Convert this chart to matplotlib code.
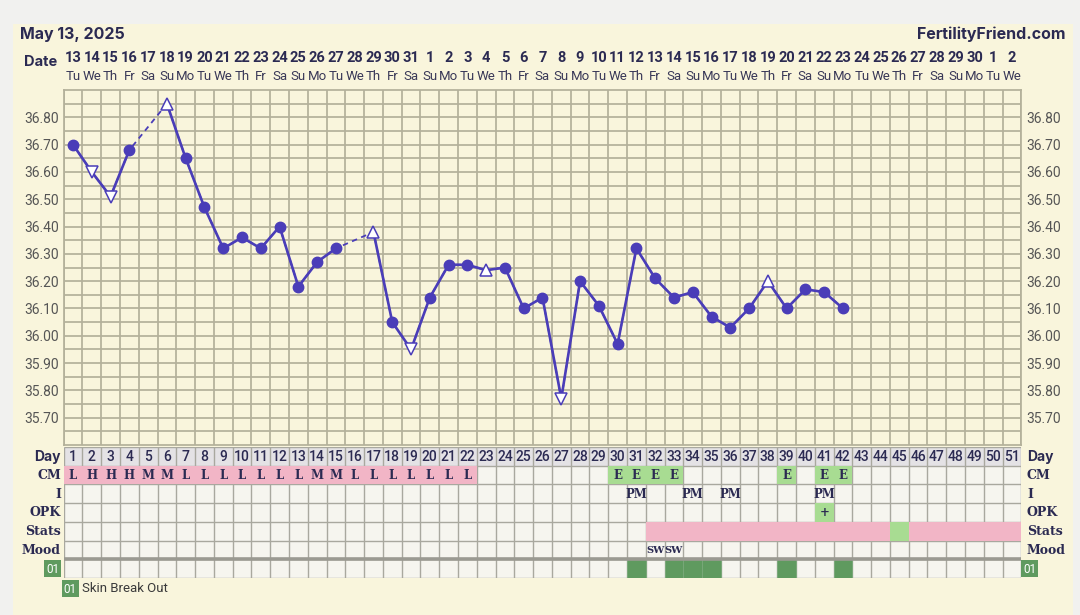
import numpy as np
import pandas as pd
import matplotlib
matplotlib.use('Agg')
import matplotlib.pyplot as plt
from matplotlib.patches import Rectangle

# ---- data ----
chart_date = 'May 13, 2025'
site_name = 'FertilityFriend.com'
first_day = '2025-05-13'
n_days = 51

# temperatures for cycle days 1..42 (nan = no reading)
temps = [36.70, 36.60, 36.51, 36.68, np.nan, 36.85, 36.65, 36.47, 36.32, 36.36,
         36.32, 36.40, 36.18, 36.27, 36.32, np.nan, 36.38, 36.05, 35.95, 36.14,
         36.26, 36.26, 36.24, 36.25, 36.10, 36.14, 35.77, 36.20, 36.11, 35.97,
         36.32, 36.21, 36.14, 36.16, 36.07, 36.03, 36.10, 36.20, 36.10, 36.17,
         36.16, 36.10]
tri_down_days = [2, 3, 19, 27]
tri_up_days = [6, 17, 23, 38]

cm_letters = list('LHHHMMLLLLLLLMMLLLLLLL')   # days 1..22
egg_days = [30, 31, 32, 33, 39, 41, 42]
pm_days = [31, 34, 36, 41]
opk_days = [41]
stats_from, stats_to = 32, 51
stats_green = [45]
mood_days = [32, 33]
mood_text = ['SW', 'SW']
skin_days = [31, 33, 34, 35, 39, 42]
skin_label = 'Skin Break Out'

row_names = ['Day', 'CM', 'I', 'OPK', 'Stats', 'Mood']

# ---- colours ----
bg_out = '#f1f1ef'
card = '#f9f5dc'
grid_c = '#b3b09a'
purple = '#4a3db8'
navy = '#2b2a52'
pink = '#f2b5c6'
lgreen = '#a8dc92'
dgreen = '#5f9a5f'
cell = '#f6f5ef'
dayrow = '#e4e2e5'
border = '#a9a89f'

W, H = 1080, 615
fig = plt.figure(figsize=(W / 100, H / 100), dpi=100, facecolor=bg_out)

def fx(px):
    return px / W

def fy(py):
    return 1 - py / H

fig.patches.append(Rectangle((fx(13), 0), fx(1073) - fx(13), fy(24), transform=fig.transFigure,
                             facecolor=card, edgecolor='none', zorder=-5))

L, R = 63.6, 1021.4
ax = fig.add_axes([fx(L), fy(445), fx(R) - fx(L), (445 - 90) / H])
ax.set_facecolor(card)

days = np.arange(1, len(temps) + 1)
t = np.array(temps)
ok = ~np.isnan(t)

# dashed line bridges the missing days, solid line on top
ax.plot(days[ok], t[ok], color=purple, lw=1.3, dashes=(3, 2.5), zorder=3)
ax.plot(days, t, '-', color=purple, lw=1.9, zorder=4)

circ = ok.copy()
for d in tri_down_days + tri_up_days:
    circ[d - 1] = False
ax.plot(days[circ], t[circ], 'o', color=purple, ms=7.5, zorder=5)
dn = np.array(tri_down_days)
up = np.array(tri_up_days)
ax.plot(dn, t[dn - 1], 'v', mfc='white', mec=purple, mew=1.1, ms=8, zorder=5)
ax.plot(up, t[up - 1], '^', mfc='white', mec=purple, mew=1.1, ms=8, zorder=5)

ax.set_xlim(0.5, n_days + 0.5)
ax.set_ylim(35.60, 36.90)
ax.set_xticks(np.arange(0.5, n_days + 1, 1))
ax.set_xticklabels([])
ax.set_yticks(np.round(np.arange(35.70, 36.81, 0.1), 2))
ax.set_yticks(np.round(np.arange(35.65, 36.90, 0.1), 2), minor=True)
ax.yaxis.set_major_formatter(matplotlib.ticker.FormatStrFormatter('%.2f'))
ax.grid(True, which='both', color=grid_c, lw=1.25, zorder=1)
ax.tick_params(which='both', length=0, labelright=True, labelsize=10, colors='#555555')
ax.tick_params(axis='y', pad=3.5)
for lab in ax.get_yticklabels():
    lab.set_fontfamily('Roboto')
for s in ax.spines.values():
    s.set_color(grid_c)
    s.set_linewidth(1.25)

# date header
dates = pd.date_range(first_day, periods=n_days, freq='D')
xt = ax.get_xaxis_transform()
for i, d in enumerate(dates):
    ax.text(i + 1, 1.090, str(d.day), transform=xt, ha='center', va='center',
            fontsize=10.5, fontweight='bold', color=navy, family='Roboto')
    ax.text(i + 1, 1.039, d.strftime('%a')[:2], transform=xt, ha='center', va='center',
            fontsize=9.5, color='#3a3958', family='Roboto')

fig.text(fx(20), fy(34), chart_date, ha='left', va='center', fontsize=11.5,
         fontweight='bold', color=navy, family='Inter')
fig.text(fx(1066), fy(34), site_name, ha='right', va='center', fontsize=11.5,
         fontweight='bold', color=navy, family='Inter')
fig.text(fx(57), fy(62), 'Date', ha='right', va='center', fontsize=10.5,
         fontweight='bold', color=navy, family='Inter')

# ---- bottom table ----
tab = fig.add_axes([fx(L), fy(578), fx(R) - fx(L), (578 - 447) / H])
tab.set_xlim(0.5, n_days + 0.5)
tab.set_ylim(7, 0)
tab.axis('off')

tab.add_patch(Rectangle((0.5, 0), n_days, 1, facecolor=dayrow, edgecolor='none', zorder=0))
tab.add_patch(Rectangle((0.5, 1), n_days, 6, facecolor=cell, edgecolor='none', zorder=0))
tab.vlines(np.arange(0.5, n_days + 1, 1), 0, 7, color=border, lw=1, zorder=1)
tab.hlines(np.arange(0, 8), 0.5, n_days + 0.5, color=border, lw=1, zorder=1)
tab.hlines([6], 0.5, n_days + 0.5, color='#9b9a92', lw=2.6, zorder=3)

def box(day, row, color, span=1, edge='none'):
    tab.add_patch(Rectangle((day - 0.5, row), span, 1, facecolor=color, edgecolor=edge,
                            lw=0.6, zorder=2))

serif = dict(family='DejaVu Serif', fontweight='bold', color=navy, ha='center', va='center', zorder=4)

for d in range(1, n_days + 1):
    tab.text(d, 0.52, str(d), ha='center', va='center', fontsize=10, color=navy,
             family='Roboto', fontweight='medium', zorder=4)

for i, ch in enumerate(cm_letters):
    box(i + 1, 1, pink)
    tab.text(i + 1, 1.52, ch, fontsize=8.5, **serif)
for d in egg_days:
    box(d, 1, lgreen)
    tab.text(d, 1.52, 'E', fontsize=8.5, **serif)
for d in pm_days:
    tab.text(d, 2.52, 'PM', fontsize=8.5, **serif)
for d in opk_days:
    box(d, 3, lgreen)
    tab.text(d, 3.52, '+', fontsize=8.5, **serif)
box(stats_from, 4, pink, span=stats_to - stats_from + 1)
for d in stats_green:
    box(d, 4, lgreen)
for d, m in zip(mood_days, mood_text):
    tab.text(d, 5.52, m, fontsize=7.2, **serif)
for d in skin_days:
    box(d, 6, dgreen, edge='#7aa97a')

# row labels on both sides
col = (R - L) / n_days
xl = 0.5 - 2.6 / col
xr = n_days + 0.5 + 5.6 / col
for r, name in enumerate(row_names):
    if name == 'Day':
        kw = dict(family='Inter', fontweight='bold', color=navy, fontsize=10)
    else:
        kw = dict(family='DejaVu Serif', fontweight='bold', color=navy, fontsize=9)
    tab.text(xl, r + 0.52, name, ha='right', va='center', clip_on=False, **kw)
    tab.text(xr, r + 0.52, name, ha='left', va='center', clip_on=False, **kw)

def tag(x0, y0, w, h):
    tab.add_patch(Rectangle((x0, y0), w, h, facecolor=dgreen, edgecolor='none',
                            clip_on=False, zorder=3))
    tab.text(x0 + w / 2, y0 + h / 2 + 0.03, '01', ha='center', va='center', fontsize=8.5,
             color='white', family='Roboto', clip_on=False, zorder=4)

tag(0.5 - 19.6 / col, 6.05, 17 / col, 0.92)
tag(n_days + 0.5, 6.05, 17 / col, 0.92)
tag(0.5 - 1.6 / col, 7.11, 16.5 / col, 0.92)
tab.text(0.5 + 18.4 / col, 7.56, skin_label, ha='left', va='center', fontsize=9.5,
         color='#3a3a3a', family='Roboto', clip_on=False)

fig.savefig('out.png', dpi=100, facecolor=bg_out)
